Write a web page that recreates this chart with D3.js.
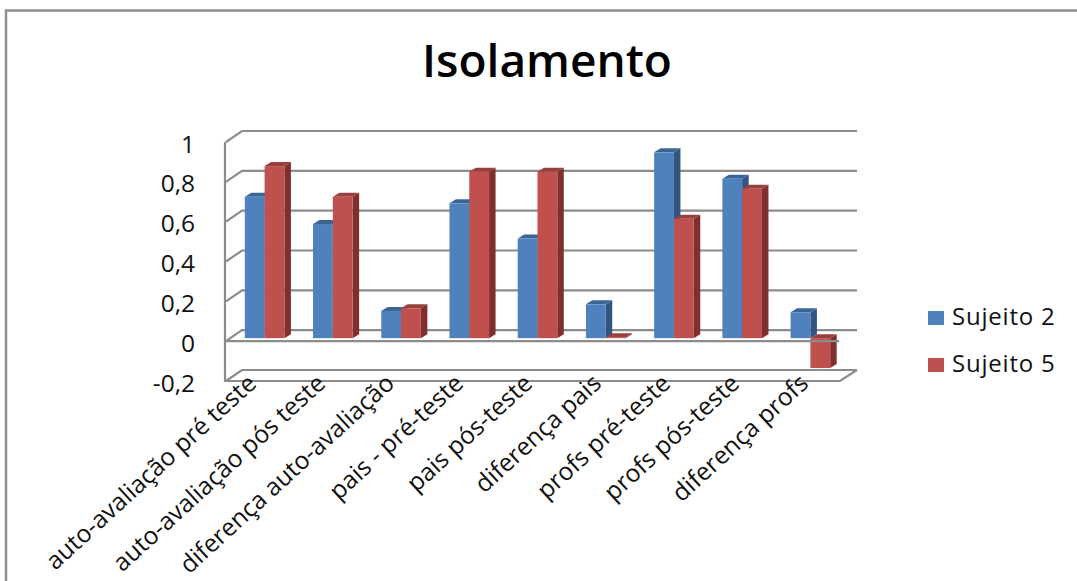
<!DOCTYPE html>
<html><head><meta charset="utf-8">
<script src="https://cdn.jsdelivr.net/npm/d3@7"></script>
<style>html,body{margin:0;background:#fff}svg{display:block}text{font-family:"Open Sans",sans-serif;fill:#111}</style>
</head><body><svg id="c" width="1077" height="581"></svg>
<script>
const categories=["auto-avaliação pré teste","auto-avaliação pós teste","diferença auto-avaliação","pais - pré-teste","pais pós-teste","diferença pais","profs pré-teste","profs pós-teste","diferença profs"];
const sujeito2=[0.71,0.573,0.137,0.677,0.5,0.17,0.933,0.8,0.13];
const sujeito5=[0.864,0.71,0.15,0.835,0.835,0.005,0.6,0.75,-0.15];
const seriesNames=["Sujeito 2","Sujeito 5"];
const tickLabels=["-0,2","0","0,2","0,4","0,6","0,8","1"];
const tickValues=[-0.2,0,0.2,0.4,0.6,0.8,1];
const blue={front:"#4f81bd",side:"#2f5580",top:"#3b6596"};
const red={front:"#c0504d",side:"#7f302e",top:"#99403d"};
const grid="#8c8c8c";

const svg=d3.select("#c");
// Chart frame: only the top and left edges fall inside the page
svg.append("path").attr("d","M6,590V10.5H1077").attr("fill","none").attr("stroke","#8e8e8e").attr("stroke-width",2.5);
svg.append("text").attr("x",547).attr("y",77).attr("text-anchor","middle").style("font-size","46px").style("font-weight",600).style("fill","#000").text("Isolamento");

// Front plane scales; the walls and bars are offset from it to fake the 3D depth
const x=d3.scaleBand().domain(d3.range(categories.length)).range([226,840]);
const y=d3.scaleLinear().domain([-0.2,1]).range([381,142]);
const labelX=d3.scalePoint().domain(d3.range(categories.length)).range([252,804]);
const wall={dx:16,dy:-11}, slot={dx:4.5,dy:-3}, depth={dx:6.5,dy:-4};
const barW=19.8;

const gridG=svg.append("g").attr("fill","none").attr("stroke",grid).attr("stroke-width",2.2);
tickValues.forEach(v=>{
  gridG.append("path").attr("d",`M226,${y(v)}L${226+wall.dx},${y(v)+wall.dy}H857`);
});
gridG.append("path").attr("d",`M225,${y(1)}V${y(-0.2)}H840L857,${y(-0.2)+wall.dy}`);

function bar(g,i,v,offset,c){
  const x0=x(i)+(x.bandwidth()-2*barW)/2+slot.dx+offset*barW, x1=x0+barW;
  const ya=y(Math.max(v,0))+slot.dy, yb=y(Math.min(v,0))+slot.dy;
  const d=depth;
  g.append("path").attr("fill",c.side).attr("d",`M${x1},${ya}L${x1+d.dx},${ya+d.dy}V${yb+d.dy}L${x1},${yb}Z`);
  g.append("path").attr("fill",c.top).attr("d",`M${x0},${ya}L${x0+d.dx},${ya+d.dy}H${x1+d.dx}L${x1},${ya}Z`);
  g.append("rect").attr("fill",c.front).attr("x",x0).attr("y",ya).attr("width",barW).attr("height",Math.max(yb-ya,0));
}
const bars=svg.append("g");
categories.forEach((_,i)=>{bar(bars,i,sujeito2[i],0,blue);bar(bars,i,sujeito5[i],1,red);});

svg.append("line").attr("x1",225).attr("x2",839).attr("y1",y(0)).attr("y2",y(0)).attr("stroke",grid).attr("stroke-width",2.2);

svg.append("g").selectAll("text").data(tickValues).join("text")
  .attr("x",195).attr("y",v=>y(v)+10.5).attr("text-anchor","end").style("font-size","24.5px")
  .text((v,i)=>tickLabels[i]);

svg.append("g").selectAll("text").data(categories).join("text")
  .attr("text-anchor","end").style("font-size","24.6px")
  .attr("transform",(d,i)=>`translate(${labelX(i)},379) rotate(-42.5)`)
  .attr("dy","0.35em").text(d=>d);

const legend=svg.append("g");
[blue,red].forEach((c,i)=>{
  const top=311+47*i;
  legend.append("rect").attr("x",928).attr("y",top).attr("width",16).attr("height",14).attr("fill",c.front);
  legend.append("text").attr("x",952).attr("y",top+14).style("font-size","24px").style("letter-spacing","0.8px").text(seriesNames[i]);
});
</script></body></html>
